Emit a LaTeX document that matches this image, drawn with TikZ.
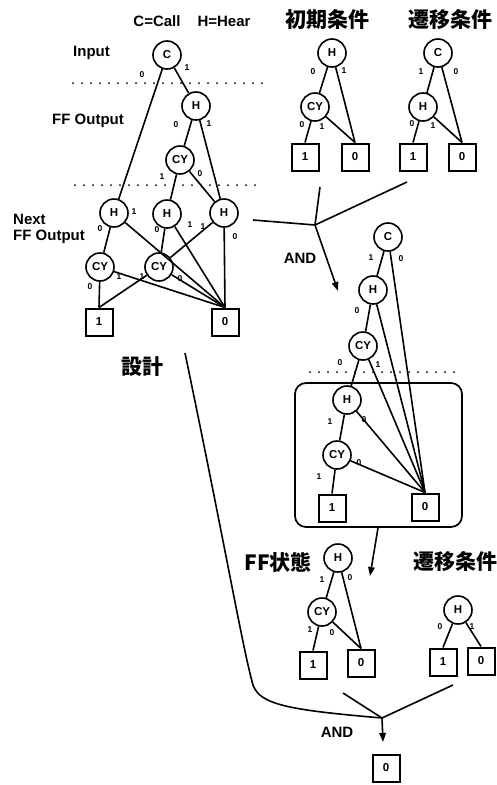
\documentclass[tikz,border=0pt]{standalone}
\usepackage{fontspec}
\setmainfont{Liberation Sans}
\newfontfamily\cjk{Noto Sans CJK JP}
\usetikzlibrary{arrows.meta}
\begin{document}
\begin{tikzpicture}[x=1pt,y=-1pt,
  circ/.style={circle, draw, line width=1.6pt, minimum size=28pt, inner sep=0pt, font=\fontsize{11.5}{11.5}\selectfont\bfseries},
  leaf/.style={rectangle, draw, line width=2pt, minimum size=27pt, inner sep=0pt, font=\fontsize{11.5}{11.5}\selectfont\bfseries},
  lbl/.style={inner sep=0pt, font=\fontsize{8.5}{8.5}\selectfont\bfseries},
  edge/.style={line width=1.6pt},
  arr/.style={line width=1.6pt, -{Triangle[length=9pt,width=6.5pt]}},
  dots/.style={line width=2pt, dash pattern=on 0pt off 9pt, line cap=round},
  txt/.style={inner sep=0pt, font=\fontsize{15}{16}\selectfont\bfseries},
  jp/.style={inner sep=0pt, font=\fontsize{21}{21}\selectfont\cjk\bfseries},
  frame/.style={draw, line width=1.7pt, rounded corners=11pt, minimum width=167pt, minimum height=144pt, inner sep=0pt}
]
\useasboundingbox (0,0) rectangle (497,785);

% ---------- texts ----------
\node[txt] (legend) at (192,21) {C=Call\hspace{17pt}H=Hear};
\node[txt, anchor=west] (inp) at (73,53) {Input};
\node[txt, anchor=west] (ffo) at (52,121) {FF Output};
\node[txt, anchor=west, align=left] (nffo) at (13,229) {Next\\FF Output};
\node[jp] (sekkei) at (142,367) {設計};
\node[jp] (t1) at (327,20) {初期条件};
\node[jp] (t2) at (450,20) {遷移条件};
\node[jp] (t3) at (278,562) {FF状態};
\node[jp] (t4) at (455,562) {遷移条件};
\node[txt] (and1) at (300,258) {AND};
\node[txt] (and2) at (337,732) {AND};

% ---------- dotted lines ----------
\draw[dots] (73,83) -- (263,83);
\draw[dots] (75,185) -- (263,185);
\draw[dots] (310,372) -- (460,372);

% ---------- design tree (top left) ----------
\node[circ] (C0) at (167,55) {C};
\node[circ] (H0) at (196,106) {H};
\node[circ] (CY0) at (180,160) {CY};
\node[circ] (H1) at (114,213) {H};
\node[circ] (H2) at (167,214) {H};
\node[circ] (H3) at (224,213) {H};
\node[circ] (CY1) at (100,267) {CY};
\node[circ] (CY2) at (159,267) {CY};
\node[leaf] (L1) at (99,322) {1};
\node[leaf] (L0) at (225,322) {0};

\draw[edge] (C0) -- (H1);
\draw[edge] (C0) -- (H0);
\draw[edge] (H0) -- (CY0);
\draw[edge] (H0) -- (H3);
\draw[edge] (CY0) -- (H2);
\draw[edge] (CY0) -- (H3);
\draw[edge] (H1) -- (CY1);
\draw[edge] (H1) -- (L0.north);
\draw[edge] (H2) -- (CY2);
\draw[edge] (H2) -- (L0.north);
\draw[edge] (H3) -- (CY2);
\draw[edge] (H3) -- (L0.north);
\draw[edge] (CY1) -- (L1.north);
\draw[edge] (CY1) -- (L0.north);
\draw[edge] (CY2) -- (L1.north);
\draw[edge] (CY2) -- (L0.north);

\foreach \x/\y/\t [count=\i] in {142/75/0, 187/68/1, 176/125/0, 209/124/1, 162/177/1, 200/174/0,
  134/212/1, 100/229/0, 157/230/0, 190/225/1, 203/227/1, 235/237/0,
  90/287/0, 119/277/1, 142/277/1, 180/279/0}
  \node[lbl] (la\i) at (\x,\y) {\t};

% ---------- initial condition ----------
\node[circ] (HA) at (332,53) {H};
\node[circ] (CYA) at (315,107) {CY};
\node[leaf] (B1A) at (305,157) {1};
\node[leaf] (B0A) at (355,157) {0};
\draw[edge] (HA) -- (CYA);
\draw[edge] (HA) -- (B0A.north);
\draw[edge] (CYA) -- (B1A.north);
\draw[edge] (CYA) -- (B0A.north);
\foreach \x/\y/\t [count=\i] in {313/72/0, 344/71/1, 302/125/0, 322/127/1}
  \node[lbl] (lb\i) at (\x,\y) {\t};

% ---------- transition condition (top) ----------
\node[circ] (CB) at (438,53) {C};
\node[circ] (HB) at (423,107) {H};
\node[leaf] (B1B) at (413,157) {1};
\node[leaf] (B0B) at (462,157) {0};
\draw[edge] (CB) -- (HB);
\draw[edge] (CB) -- (B0B.north);
\draw[edge] (HB) -- (B1B.north);
\draw[edge] (HB) -- (B0B.north);
\foreach \x/\y/\t [count=\i] in {421/72/1, 456/72/0, 412/124/0, 433/126/1}
  \node[lbl] (lc\i) at (\x,\y) {\t};

% ---------- first AND ----------
\coordinate (J1) at (315,225);
\coordinate (a1) at (253,220);
\coordinate (a2) at (320,187);
\coordinate (a3) at (407,182);
\coordinate (a4) at (338,291);
\draw[edge] (a1) -- (J1);
\draw[edge] (a2) -- (J1);
\draw[edge] (a3) -- (J1);
\draw[arr] (J1) -- (a4);

% ---------- product tree (middle) ----------
\node[frame] (FR) at (378.5,455) {};
\node[circ] (CM) at (388,237) {C};
\node[circ] (HM) at (373,290) {H};
\node[circ] (CYM) at (363,346) {CY};
\node[circ] (HI) at (347,400) {H};
\node[circ] (CYI) at (337,455) {CY};
\node[leaf] (B1I) at (332,508) {1};
\node[leaf] (B0I) at (425,507) {0};
\draw[edge] (CM) -- (HM);
\draw[edge] (CM) -- (B0I.north);
\draw[edge] (HM) -- (CYM);
\draw[edge] (HM) -- (B0I.north);
\draw[edge] (CYM) -- (HI);
\draw[edge] (CYM) -- (B0I.north);
\draw[edge] (HI) -- (CYI);
\draw[edge] (HI) -- (B0I.north);
\draw[edge] (CYI) -- (B1I.north);
\draw[edge] (CYI) -- (B0I.north);
\foreach \x/\y/\t [count=\i] in {371/258/1, 401/259/0, 357/311/0, 340/363/0, 378/365/1,
  330/422/1, 364/420/0, 319/477/1, 359/463/0}
  \node[lbl] (ld\i) at (\x,\y) {\t};

\coordinate (a5) at (370,576);
\draw[arr] (FR.south -| 378,0) -- (a5);

% ---------- FF state ----------
\node[circ] (HF) at (338,558) {H};
\node[circ] (CYF) at (322,612) {CY};
\node[leaf] (B1F) at (313,665) {1};
\node[leaf] (B0F) at (361,663) {0};
\draw[edge] (HF) -- (CYF);
\draw[edge] (HF) -- (B0F.north);
\draw[edge] (CYF) -- (B1F.north);
\draw[edge] (CYF) -- (B0F.north);
\foreach \x/\y/\t [count=\i] in {322/580/1, 350/578/0, 310/630/1, 332/633/0}
  \node[lbl] (le\i) at (\x,\y) {\t};

% ---------- transition condition (bottom) ----------
\node[circ] (HG) at (458,610) {H};
\node[leaf] (B1G) at (443,662) {1};
\node[leaf] (B0G) at (481,661) {0};
\draw[edge] (HG) -- (B1G.north);
\draw[edge] (HG) -- (B0G.north);
\foreach \x/\y/\t [count=\i] in {440/627/0, 472/627/1}
  \node[lbl] (lf\i) at (\x,\y) {\t};

% ---------- second AND ----------
\coordinate (J2) at (382,718);
\coordinate (b0) at (185,353);
\coordinate (b1) at (343,693);
\coordinate (b2) at (453,685);
\coordinate (b3) at (383,742);
\draw[edge] (b0) .. controls (225,545) and (243,650) .. (253,685)
               .. controls (260,705) and (290,710) .. (J2);
\draw[edge] (b1) -- (J2);
\draw[edge] (b2) -- (J2);
\draw[arr] (J2) -- (b3);
\node[leaf] (FIN) at (386,768) {0};

\end{tikzpicture}
\end{document}
